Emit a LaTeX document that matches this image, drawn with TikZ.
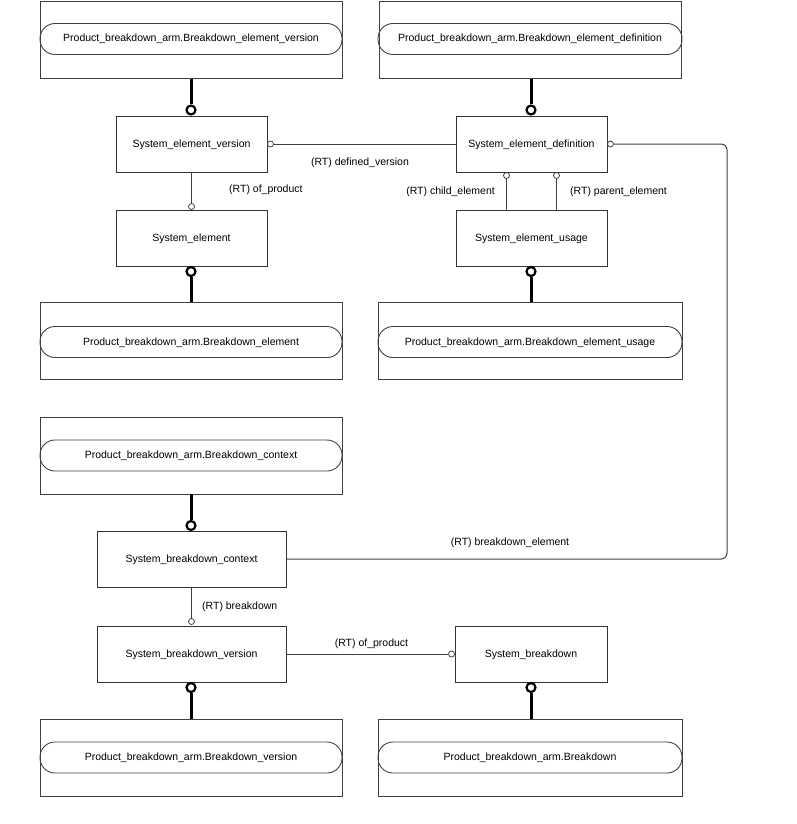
\documentclass[tikz,border=0pt]{standalone}
\usepackage{fontspec}
\setmainfont{Liberation Sans}
\usetikzlibrary{calc}
\tikzset{
  txt/.style={font=\fontsize{10.5}{12}\selectfont, text height=6pt, text depth=0pt},
  outer/.style={draw=black!75, line width=0.9pt, minimum width=302pt, minimum height=77pt, inner sep=0pt},
  pill/.style={txt, draw=black!75, line width=0.9pt, rounded corners=15pt, minimum width=302pt, minimum height=31pt, inner sep=0pt},
  ent/.style={txt, draw=black!80, line width=0.9pt, minimum width=151pt, minimum height=56pt, inner sep=0pt},
  bigdot/.style={circle, draw=black, line width=2.2pt, fill=white, inner sep=0pt, minimum size=9pt},
  smalldot/.style={circle, draw=black!75, line width=0.8pt, fill=white, inner sep=0pt, minimum size=6pt},
  thickline/.style={draw=black, line width=3pt},
  rel/.style={draw=black!75, line width=1pt},
  lbl/.style={txt, inner sep=0pt}
}
\begin{document}
\begin{tikzpicture}[x=1pt,y=-1pt]
\useasboundingbox (0,0) rectangle (796,824);
% outer boxes with pills
\node[outer] (pbev) at (191,40) {};
\node[pill] (pbevp) at (191,39) {Product\_breakdown\_arm.Breakdown\_element\_version};
\node[outer] (pbed) at (530,40) {};
\node[pill, minimum width=304pt] (pbedp) at (530,39) {Product\_breakdown\_arm.Breakdown\_element\_definition};
\node[outer] (pbe) at (191,341) {};
\node[pill] (pbep) at (191,342) {Product\_breakdown\_arm.Breakdown\_element};
\node[outer, minimum width=304pt] (pbeu) at (530,341) {};
\node[pill, minimum width=304pt] (pbeup) at (530,342) {Product\_breakdown\_arm.Breakdown\_element\_usage};
\node[outer] (pbc) at (191,455.5) {};
\node[pill] (pbcp) at (191,455.5) {Product\_breakdown\_arm.Breakdown\_context};
\node[outer] (pbv) at (191,757.5) {};
\node[pill] (pbvp) at (191,757.5) {Product\_breakdown\_arm.Breakdown\_version};
\node[outer, minimum width=304pt] (pbb) at (530,757.5) {};
\node[pill, minimum width=304pt] (pbbp) at (530,757.5) {Product\_breakdown\_arm.Breakdown};
% entities
\node[ent] (sev) at (191.5,144) {System\_element\_version};
\node[ent] (sed) at (531.5,144) {System\_element\_definition};
\node[ent] (se) at (191.5,238) {System\_element};
\node[ent] (seu) at (531.5,238) {System\_element\_usage};
\node[ent, minimum width=189pt] (sbc) at (191.5,559) {System\_breakdown\_context};
\node[ent, minimum width=189pt] (sbv) at (191.5,654) {System\_breakdown\_version};
\node[ent, minimum width=152pt] (sb) at (531,654) {System\_breakdown};
% thick (supertype) links
\node[bigdot] (d1) at (191,110) {};
\draw[thickline] (pbev.south -| d1) -- (d1.north);
\node[bigdot] (d2) at (531,110) {};
\draw[thickline] (pbed.south -| d2) -- (d2.north);
\node[bigdot] (d3) at (191,271.5) {};
\draw[thickline] (d3.south) -- (pbe.north -| d3);
\node[bigdot] (d4) at (531,271.5) {};
\draw[thickline] (d4.south) -- (pbeu.north -| d4);
\node[bigdot] (d5) at (191,525.5) {};
\draw[thickline] (pbc.south -| d5) -- (d5.north);
\node[bigdot] (d6) at (191,687.5) {};
\draw[thickline] (d6.south) -- (pbv.north -| d6);
\node[bigdot] (d7) at (531,687.5) {};
\draw[thickline] (d7.south) -- (pbb.north -| d7);
% relationships
\node[smalldot] (s1) at (270.5,144) {};
\draw[rel] (s1.east) -- (sed.west);
\node[lbl] (l1) at (360,162) {(RT) defined\_version};
\node[smalldot] (s2) at (191.5,206.5) {};
\draw[rel] (sev.south) -- (s2.north);
\node[lbl, anchor=west] (l2) at (229,189) {(RT) of\_product};
\node[smalldot] (s3) at (506.5,175.5) {};
\draw[rel] (s3.south) -- (seu.north -| s3);
\node[smalldot] (s4) at (556.5,175.5) {};
\draw[rel] (s4.south) -- (seu.north -| s4);
\node[lbl, anchor=east] (l3) at (495,191) {(RT) child\_element};
\node[lbl, anchor=west] (l4) at (570,191) {(RT) parent\_element};
\node[smalldot] (s5) at (610.5,144) {};
\coordinate (c1) at (727,144);
\coordinate (c2) at (727,559);
\draw[rel, rounded corners=6pt] (s5.east) -- (c1) -- (c2) -- (sbc.east);
\node[lbl] (l5) at (510,542) {(RT) breakdown\_element};
\node[smalldot] (s6) at (191.5,621.5) {};
\draw[rel] (sbc.south) -- (s6.north);
\node[lbl, anchor=west] (l6) at (202,606) {(RT) breakdown};
\node[smalldot] (s7) at (451.5,654) {};
\draw[rel] (sbv.east) -- (s7.west);
\node[lbl] (l7) at (371.5,643) {(RT) of\_product};
\end{tikzpicture}
\end{document}
